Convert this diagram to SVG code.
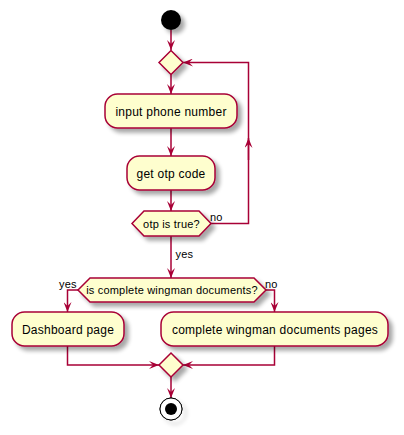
<svg xmlns="http://www.w3.org/2000/svg" width="404" height="435" viewBox="0 0 404 435">
<defs>
<filter id="sh" x="-20%" y="-20%" width="160%" height="160%">
<feGaussianBlur in="SourceAlpha" stdDeviation="2"/>
<feOffset dx="4" dy="4" result="b"/>
<feComponentTransfer><feFuncA type="linear" slope="0.35"/></feComponentTransfer>
<feMerge><feMergeNode/><feMergeNode in="SourceGraphic"/></feMerge>
</filter>
<marker id="ah" viewBox="0 0 10 8" refX="10" refY="4" markerWidth="10" markerHeight="8" markerUnits="userSpaceOnUse" orient="auto">
<path d="M0,0 L10,4 L0,8 L4,4 Z" fill="#A80036"/>
</marker>
</defs>
<style>
.box{fill:#FEFECE;stroke:#A80036;stroke-width:1.5;filter:url(#sh)}
.ln{fill:none;stroke:#A80036;stroke-width:1.5}
.t{font-family:"Liberation Sans",Arial,sans-serif;font-size:12px;letter-spacing:0.25px;fill:#000;text-anchor:middle}
.c{font-family:"Liberation Sans",Arial,sans-serif;font-size:11px;letter-spacing:0.2px;fill:#000;text-anchor:middle}
.l{font-family:"Liberation Sans",Arial,sans-serif;font-size:11px;letter-spacing:0.2px;fill:#000}
</style>
<g id="connectors">
<path class="ln" d="M171,30 V50" marker-end="url(#ah)"/>
<path class="ln" d="M171,74.5 V94" marker-end="url(#ah)"/>
<path class="ln" d="M171,128 V156" marker-end="url(#ah)"/>
<path class="ln" d="M171,190 V211" marker-end="url(#ah)"/>
<path class="ln" d="M211,223.5 H248.5 V62.5 H183" marker-end="url(#ah)"/>
<path class="ln" d="M248.5,160 V138" marker-end="url(#ah)"/>
<text class="l" x="210" y="221">no</text>
<path class="ln" d="M171,236 V278" marker-end="url(#ah)"/>
<text class="l" x="175.5" y="258">yes</text>
<path class="ln" d="M78,290 H67.5 V312" marker-end="url(#ah)"/>
<text class="l" x="59" y="288">yes</text>
<path class="ln" d="M266,290 H274.5 V312" marker-end="url(#ah)"/>
<text class="l" x="265" y="288">no</text>
<path class="ln" d="M67.5,346 V365 H159" marker-end="url(#ah)"/>
<path class="ln" d="M274.5,346 V365 H183" marker-end="url(#ah)"/>
<path class="ln" d="M171,377 V398" marker-end="url(#ah)"/>
</g>
<g id="start"><circle cx="171" cy="20" r="10" fill="#000" filter="url(#sh)"/></g>
<g id="merge1"><polygon class="box" points="159,62.5 171,50.5 183,62.5 171,74.5"/></g>
<g id="input_phone"><rect class="box" x="105" y="94" width="132" height="34" rx="12.5"/><text class="t" x="171" y="115.5">input phone number</text></g>
<g id="get_otp"><rect class="box" x="127" y="156" width="88" height="34" rx="12.5"/><text class="t" x="171" y="177.5">get otp code</text></g>
<g id="otp_check"><polygon class="box" points="132,223.5 144,211 199,211 211,223.5 199,236 144,236"/><text class="c" x="171.5" y="227.5">otp is true?</text></g>
<g id="docs_check"><polygon class="box" points="78,290 90,278 254,278 266,290 254,302 90,302"/><text class="c" x="172" y="294">is complete wingman documents?</text></g>
<g id="dashboard"><rect class="box" x="12" y="312" width="112" height="34" rx="12.5"/><text class="t" x="68" y="333.5">Dashboard page</text></g>
<g id="docs_pages"><rect class="box" x="161" y="312" width="227" height="34" rx="12.5"/><text class="t" x="275" y="333.5">complete wingman documents pages</text></g>
<g id="merge2"><polygon class="box" points="159,365 171,353 183,365 171,377"/></g>
<g id="end"><circle cx="171" cy="409" r="11" fill="none" stroke="#000" stroke-width="1" filter="url(#sh)"/><circle cx="171" cy="409" r="11" fill="#fff" stroke="#000" stroke-width="1"/><circle cx="171" cy="409" r="6" fill="#000"/></g>
</svg>
